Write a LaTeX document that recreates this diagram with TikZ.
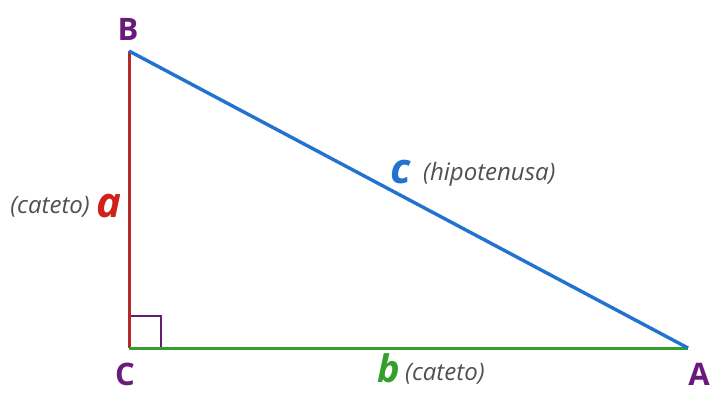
\documentclass[tikz,border=0pt]{standalone}
\usepackage{fontspec}
\setmainfont{Open Sans}
\definecolor{vert}{HTML}{6A1B7A}
\definecolor{redl}{HTML}{B5292B}
\definecolor{redt}{HTML}{D0211B}
\definecolor{bluel}{HTML}{2272D0}
\definecolor{greenl}{HTML}{33A02C}
\definecolor{grayt}{HTML}{505050}
\begin{document}
\begin{tikzpicture}[x=1pt,y=-1pt,
  vlabel/.style={font=\fontsize{31}{31}\selectfont\bfseries, text=vert, inner sep=0pt, anchor=base},
  side/.style={font=\fontsize{42}{42}\selectfont\bfseries\itshape, inner sep=0pt, anchor=base},
  note/.style={font=\fontsize{24}{24}\selectfont\itshape, text=grayt, inner sep=0pt}]
\useasboundingbox (0,0) rectangle (713,392);
\fill[white] (0,0) rectangle (713,392);
\coordinate (B) at (129,51);
\coordinate (C) at (129,348);
\coordinate (A) at (688,348);
\draw[vert, line width=1.5] (129,316) -- (161,316) -- (161,348);
\draw[redl, line width=3] (C) -- (B);
\draw[greenl, line width=3] (C) -- (A);
\draw[bluel, line width=3.4] (B) -- (A);
\node[vlabel] (lB) at (128,40) {B};
\node[vlabel] (lC) at (125,385) {C};
\node[vlabel] (lA) at (699,385) {A};
\node[side, text=redt] (la) at (109,217) {a};
\node[note, anchor=base east] (ta) at (90,213) {(cateto)};
\node[side, text=bluel] (lc) at (401,183) {c};
\node[note, anchor=base west] (tc) at (423,180) {(hipotenusa)};
\node[side, text=greenl, font=\fontsize{38}{38}\selectfont\bfseries\itshape] (lb) at (389,382) {b};
\node[note, anchor=base west] (tb) at (405,380) {(cateto)};
\end{tikzpicture}
\end{document}
